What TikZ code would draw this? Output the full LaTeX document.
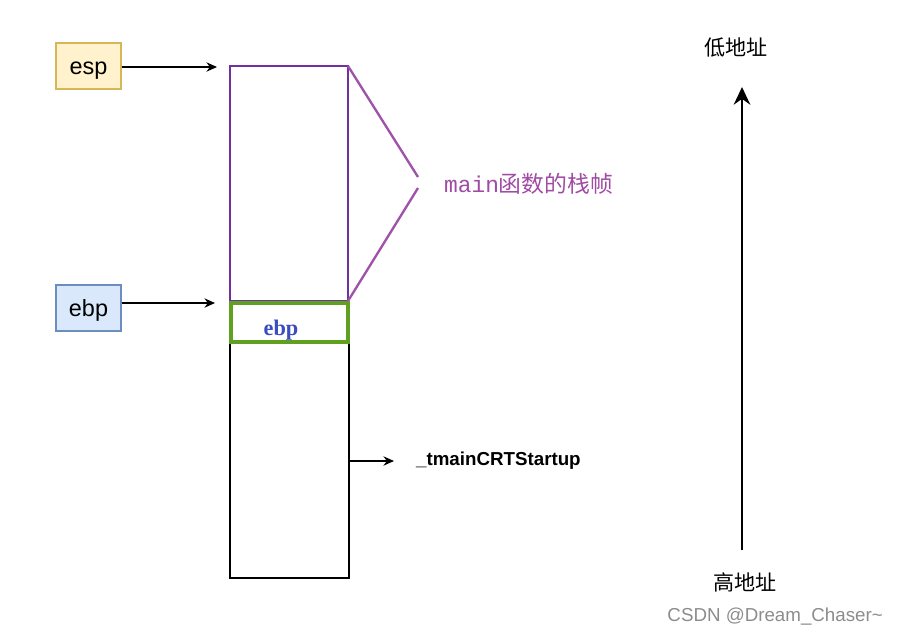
\documentclass[tikz,border=0pt]{standalone}
\usepackage{fontspec}
\setmainfont{Liberation Sans}
\newfontfamily\cjkfont{Noto Sans CJK SC}
\newfontfamily\monofont{Liberation Mono}
\newfontfamily\seriffont{Liberation Serif}
\usepackage{tikz}
\usetikzlibrary{arrows.meta}
\usepackage{xcolor}
\definecolor{espfill}{HTML}{FFF2CC}
\definecolor{espdraw}{HTML}{D6B656}
\definecolor{ebpfill}{HTML}{DAE8FC}
\definecolor{ebpdraw}{HTML}{6C8EBF}
\definecolor{framepurple}{HTML}{7030A0}
\definecolor{bracepurple}{HTML}{A052AA}
\definecolor{labelpurple}{HTML}{A04CA4}
\definecolor{slotgreen}{HTML}{60A020}
\definecolor{slotblue}{HTML}{3A4CC0}

\begin{document}
\begin{tikzpicture}[x=0.03cm,y=-0.03cm,
    regbox/.style={draw,line width=0.9pt,minimum width=1.95cm,minimum height=1.38cm,
      inner sep=0pt,text height=15pt,text depth=0pt,font=\fontsize{20}{24}\selectfont},
    ptr/.style={-{Stealth[length=9pt,width=8pt]},line width=1.1pt},
    cjklabel/.style={font=\cjkfont\fontsize{18}{22}\selectfont}]
  \useasboundingbox (0,0) rectangle (901,636);
  % registros
  \node[regbox,fill=espfill,draw=espdraw] (esp) at (88.5,66) {esp};
  \node[regbox,fill=ebpfill,draw=ebpdraw] (ebp) at (88.5,308) {ebp};
  % pila: marco de main, ebp guardado, resto
  \draw[framepurple,line width=0.9pt] (230,66) coordinate (frametop) rectangle (348,301) coordinate (framebot);
  \draw[line width=1pt] (230,342) rectangle (349,578);
  \draw[slotgreen,line width=2.6pt] (231,303) rectangle (348,342);
  \node[text=slotblue,font=\seriffont\bfseries\fontsize{19}{22}\selectfont] (oldebp) at (281,330) {ebp};
  % llave del marco
  \coordinate (bracetop) at (418,177);
  \coordinate (bracebot) at (418,188);
  \draw[bracepurple,line width=2pt] (frametop -| framebot) -- (bracetop);
  \draw[bracepurple,line width=2pt] (bracebot) -- (framebot);
  \node[text=labelpurple,anchor=west] (framelabel) at (440,184)
    {\fontsize{19.5}{22}\selectfont\monofont main\cjkfont 函数的栈帧};
  % punteros
  \coordinate (esptip) at (217,67);
  \coordinate (ebptip) at (215,303);
  \draw[ptr] (esp.east |- esptip) -- (esptip);
  \draw[ptr] (ebp.east |- ebptip) -- (ebptip);
  % direccion de retorno
  \coordinate (retfrom) at (349,461);
  \coordinate (retto) at (394,461);
  \node[anchor=west,font=\bfseries\fontsize{16}{19}\selectfont] (ret) at (412,461) {\_tmainCRTStartup};
  \draw[ptr] (retfrom) -- (retto);
  % sentido de las direcciones
  \node[cjklabel] (low) at (736,48) {低地址};
  \node[cjklabel] (high) at (745,582) {高地址};
  \coordinate (arrowfoot) at (742,550);
  \coordinate (arrowhead) at (742,87);
  \draw[-{Stealth[length=15pt,width=14pt]},line width=2.4pt] (arrowfoot) -- (arrowhead);
  \node[text=black!45,anchor=east,font=\fontsize{16}{19}\selectfont] (mark) at (887,617) {CSDN @Dream\_Chaser\textasciitilde};
\end{tikzpicture}
\end{document}
